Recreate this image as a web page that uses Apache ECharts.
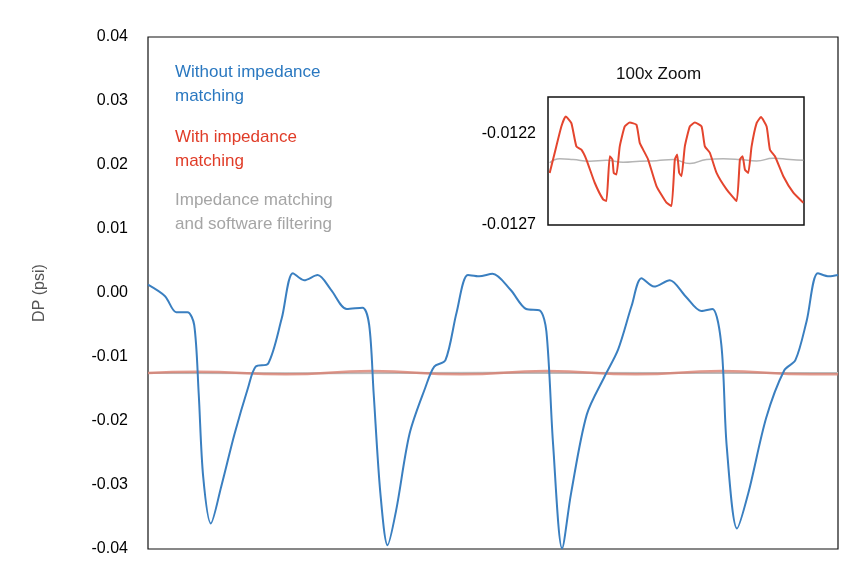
<!DOCTYPE html>
<html><head><meta charset="utf-8">
<script src="https://cdn.jsdelivr.net/npm/echarts@6/dist/echarts.min.js"></script>
<style>html,body{margin:0;padding:0;background:#fff}#c{width:865px;height:579px}</style>
</head><body><div id="c"></div>
<script>
// Main chart: [time, DP]
const blueData = [[22,0.0013],[60,-0.0005],[85,-0.003],[110,-0.003],[125,-0.005],[135,-0.0157],[145,-0.0287],[162,-0.036],[185,-0.0303],[215,-0.022],[245,-0.0148],[262,-0.0115],[290,-0.011],[320,-0.004],[345,0.0031],[370,0.002],[400,0.0028],[430,0.0005],[465,-0.0025],[500,-0.0023],[515,-0.005],[525,-0.0157],[540,-0.0313],[556,-0.0394],[575,-0.034],[605,-0.022],[640,-0.0148],[660,-0.0115],[685,-0.0105],[710,-0.003],[735,0.0028],[760,0.0026],[790,0.003],[830,0.0005],[865,-0.0025],[895,-0.0027],[910,-0.006],[925,-0.0237],[945,-0.0399],[965,-0.0313],[1000,-0.019],[1040,-0.013],[1070,-0.0088],[1100,-0.002],[1122,0.0023],[1150,0.001],[1185,0.002],[1220,-0.0005],[1255,-0.0028],[1280,-0.0025],[1300,-0.0081],[1312,-0.024],[1335,-0.0368],[1360,-0.0313],[1400,-0.0195],[1440,-0.0121],[1465,-0.0105],[1490,-0.0044],[1515,0.0031],[1540,0.0026],[1560,0.0028]];
const redMain = [[22,-0.0125],[130,-0.0123],[330,-0.0127],[520,-0.0122],[720,-0.0127],[910,-0.0122],[1110,-0.0127],[1300,-0.0122],[1500,-0.0127],[1560,-0.0127]];
const greyMain = [[22,-0.0125],[400,-0.01252],[800,-0.01248],[1200,-0.0125],[1560,-0.0125]];
// Inset (100x zoom)
const redInset = [[330,-0.012415],[345,-0.012306],[365,-0.012161],[378,-0.012107],[395,-0.012143],[410,-0.01227],[425,-0.012288],[440,-0.012342],[465,-0.012469],[490,-0.01256],[500,-0.012569],[510,-0.012324],[518,-0.012342],[522,-0.012415],[530,-0.012424],[540,-0.01227],[555,-0.012161],[570,-0.01214],[590,-0.012152],[600,-0.012252],[610,-0.012288],[625,-0.012342],[650,-0.012487],[680,-0.012578],[695,-0.012596],[705,-0.012342],[712,-0.012315],[718,-0.012415],[725,-0.012433],[735,-0.01227],[750,-0.012161],[765,-0.01214],[785,-0.012161],[795,-0.01227],[810,-0.012306],[830,-0.012415],[860,-0.012505],[890,-0.012569],[900,-0.012342],[908,-0.012324],[915,-0.012397],[925,-0.012415],[935,-0.01227],[950,-0.012143],[963,-0.01211],[980,-0.012161],[990,-0.012288],[1005,-0.012324],[1030,-0.012433],[1060,-0.012523],[1090,-0.012578]];
const greyInset = [[330,-0.01236],[360,-0.012338],[400,-0.012342],[450,-0.012351],[500,-0.012346],[550,-0.012357],[600,-0.012351],[650,-0.012348],[700,-0.012342],[750,-0.012364],[800,-0.012342],[850,-0.012338],[900,-0.012342],[950,-0.01235],[1000,-0.012335],[1050,-0.012342],[1090,-0.012346]];
const insetTicks = [-0.0127, -0.0122];

const F = 'Liberation Sans, Arial, sans-serif';
const chart = echarts.init(document.getElementById('c'));
chart.setOption({
  animation:false,
  grid:[
    {left:148,right:27,top:37,bottom:30,show:true,borderColor:'#111',borderWidth:1.2},
    {left:548,top:97,width:256,height:128,show:true,borderColor:'#111',borderWidth:1.5,z:5,backgroundColor:'#fff'}
  ],
  xAxis:[
    {gridIndex:0,type:'value',min:22,max:1560,show:false},
    {gridIndex:1,type:'value',min:325,max:1092,show:false}
  ],
  yAxis:[
    {gridIndex:0,type:'value',min:-0.04,max:0.04,interval:0.01,name:'DP (psi)',nameLocation:'middle',nameGap:100,
     nameTextStyle:{fontFamily:F,fontSize:16,color:'#555'},
     axisLine:{show:false},axisTick:{show:false},splitLine:{show:false},
     axisLabel:{fontFamily:F,fontSize:16,color:'#000',margin:20,formatter:v=>v.toFixed(2)}},
    {gridIndex:1,type:'value',min:-0.0127,max:-0.0120,
     axisLine:{show:false},axisTick:{show:false},splitLine:{show:false},
     axisLabel:{fontFamily:F,fontSize:16,color:'#000',margin:12,customValues:insetTicks,formatter:v=>v.toFixed(4)}}
  ],
  series:[
    {type:'line',xAxisIndex:0,yAxisIndex:0,data:greyMain,showSymbol:false,lineStyle:{color:'#bbbbbb',width:2}},
    {type:'line',xAxisIndex:0,yAxisIndex:0,data:redMain,smooth:true,showSymbol:false,lineStyle:{color:'#d98070',width:2.5,opacity:0.8}},
    {type:'line',xAxisIndex:0,yAxisIndex:0,data:blueData,smooth:0.3,showSymbol:false,lineStyle:{color:'#3a7fc0',width:2}},
    {type:'line',xAxisIndex:1,yAxisIndex:1,data:greyInset,smooth:true,showSymbol:false,z:6,lineStyle:{color:'#b5b5b5',width:1.5}},
    {type:'line',xAxisIndex:1,yAxisIndex:1,data:redInset,smooth:0.15,showSymbol:false,z:6,lineStyle:{color:'#e4452e',width:2}}
  ],
  graphic:[
    {type:'text',left:175,top:60,style:{text:'Without impedance\nmatching',fill:'#2a78c0',font:'17px '+F,lineHeight:24}},
    {type:'text',left:175,top:125,style:{text:'With impedance\nmatching',fill:'#e03c28',font:'17px '+F,lineHeight:24}},
    {type:'text',left:175,top:188,style:{text:'Impedance matching\nand software filtering',fill:'#a5a5a5',font:'17px '+F,lineHeight:24}},
    {type:'text',left:616,top:66,style:{text:'100x Zoom',fill:'#111',font:'17px '+F}}
  ]
});
</script></body></html>
